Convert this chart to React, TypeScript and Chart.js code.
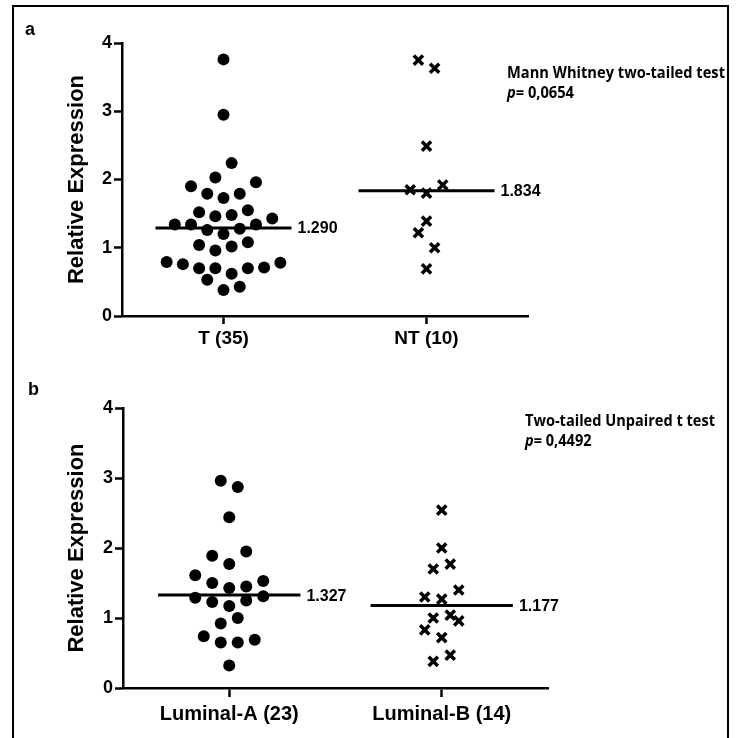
import React, { useEffect, useRef } from 'react';
import { Chart, registerables } from 'chart.js';

Chart.register(...registerables);

// ---------- DATA ----------
const topCategories = ['T (35)', 'NT (10)'];
const tValues = [3.76, 2.95, 2.24, 2.03, 1.9, 1.96, 1.79, 1.73, 1.79, 1.52, 1.46, 1.48, 1.55, 1.43, 1.34, 1.34, 1.26, 1.2, 1.28, 1.34, 1.04, 0.96, 1.02, 1.08, 0.79, 0.76, 0.7, 0.7, 0.62, 0.7, 0.71, 0.78, 0.53, 0.38, 0.43];
const tJitter = [0, 0, 1, -1, -4, 4, -2, 0, 2, -3, -1, 1, 3, 6, -6, -4, -2, 0, 2, 4, -3, -1, 1, 3, -7, -5, -3, -1, 1, 3, 5, 7, -2, 0, 2];
const ntValues = [3.75, 3.63, 2.49, 1.85, 1.8, 1.92, 1.39, 1.22, 1.0, 0.69];
const ntJitter = [-1, 1, 0, -2, 0, 2, 0, -1, 1, 0];
const topMeans = [1.29, 1.834];
const topMeanLabels = ['1.290', '1.834'];
const topTestName = 'Mann Whitney two-tailed test';
const topPValue = '0,0654';

const bottomCategories = ['Luminal-A (23)', 'Luminal-B (14)'];
const lumAValues = [2.96, 2.87, 2.44, 1.89, 1.95, 1.77, 1.61, 1.5, 1.43, 1.45, 1.53, 1.29, 1.23, 1.17, 1.25, 1.31, 0.92, 1.0, 0.74, 0.65, 0.65, 0.69, 0.32];
const lumAJitter = [-1, 1, 0, -2, 2, 0, -4, -2, 0, 2, 4, -4, -2, 0, 2, 4, -1, 1, -3, -1, 1, 3, 0];
const lumBValues = [2.54, 2.0, 1.7, 1.77, 1.4, 1.3, 1.27, 1.0, 1.04, 0.96, 0.83, 0.72, 0.38, 0.47];
const lumBJitter = [0, 0, -1, 1, 2, -2, 0, -1, 1, 2, -2, 0, -1, 1];
const bottomMeans = [1.327, 1.177];
const bottomMeanLabels = ['1.327', '1.177'];
const bottomTestName = 'Two-tailed Unpaired t test';
const bottomPValue = '0,4492';

const yTickValues = [0, 1, 2, 3, 4];
const yTitle = 'Relative Expression';

// ---------- STYLE ----------
const SLOT = 0.04;
const MEAN_HALF = 0.335;
const AXIS_FONT = '"Liberation Sans", Arial, sans-serif';
const NOTE_FONT = '"Open Sans", "Noto Sans", sans-serif';
const NOTE_SIZE = 15.5;
const W = 739;
const H = 369;

type PanelSpec = {
  letter: string;
  letterPos: [number, number];
  categories: string[];
  groups: { values: number[]; jitter: number[]; style: 'circle' | 'crossRot' }[];
  means: number[];
  meanLabels: string[];
  testName: string;
  pValue: string;
  notePos: [number, number, number, number];
  area: { left: number; top: number; right: number; bottom: number };
  xFontSize: number;
  xTickLen: number;
  xPad: number;
};

function buildConfig(p: PanelSpec): any {
  const datasets: any[] = [];
  p.groups.forEach((g, gi) => {
    datasets.push({
      type: 'scatter',
      data: g.values.map((v, i) => ({ x: gi + g.jitter[i] * SLOT, y: v })),
      pointStyle: g.style,
      pointRadius: g.style === 'circle' ? 6 : 6.5,
      pointHoverRadius: g.style === 'circle' ? 6 : 6.5,
      backgroundColor: '#000',
      borderColor: '#000',
      borderWidth: g.style === 'circle' ? 0 : 3.5,
      order: 1,
    });
  });
  p.means.forEach((m, i) => {
    datasets.push({
      type: 'line',
      data: [
        { x: i - MEAN_HALF, y: m },
        { x: i + MEAN_HALF, y: m },
      ],
      borderColor: '#000',
      borderWidth: 3,
      pointRadius: 0,
      fill: false,
      order: 2,
    });
  });

  const textPlugin = {
    id: 'panelText',
    afterDraw(chart: any) {
      const ctx = chart.ctx;
      const xs = chart.scales.x;
      const ys = chart.scales.y;
      ctx.save();
      ctx.fillStyle = '#000';
      ctx.textBaseline = 'middle';
      ctx.textAlign = 'left';
      // mean labels
      ctx.font = `bold 16px ${AXIS_FONT}`;
      p.means.forEach((m, i) => {
        ctx.fillText(p.meanLabels[i], xs.getPixelForValue(i + MEAN_HALF) + 6, ys.getPixelForValue(m) + 1);
      });
      // panel letter
      ctx.font = `bold 18px ${AXIS_FONT}`;
      ctx.fillText(p.letter, p.letterPos[0], p.letterPos[1]);
      // test notes: narrow the text horizontally so the first line spans the target width
      const [nx, ny1, ny2, targetW] = p.notePos;
      ctx.font = `bold ${NOTE_SIZE}px ${NOTE_FONT}`;
      const sx = targetW / ctx.measureText(p.testName).width;
      ctx.save();
      ctx.translate(nx, 0);
      ctx.scale(sx, 1);
      ctx.fillText(p.testName, 0, ny1);
      ctx.font = `italic bold ${NOTE_SIZE}px ${NOTE_FONT}`;
      ctx.fillText('p', 0, ny2);
      const pw = ctx.measureText('p').width;
      ctx.font = `bold ${NOTE_SIZE}px ${NOTE_FONT}`;
      ctx.fillText('= ' + p.pValue, pw, ny2);
      ctx.restore();
      ctx.restore();
    },
  };

  return {
    type: 'scatter',
    data: { datasets },
    plugins: [textPlugin],
    options: {
      animation: false,
      responsive: false,
      maintainAspectRatio: false,
      events: [],
      layout: {
        padding: { left: 0, top: p.area.top, right: W - p.area.right, bottom: 0 },
      },
      plugins: { legend: { display: false }, tooltip: { enabled: false } },
      scales: {
        x: {
          type: 'linear',
          min: -0.5,
          max: 1.5,
          afterBuildTicks: (s: any) => {
            s.ticks = p.categories.map((_, i) => ({ value: i }));
          },
          afterFit: (s: any) => {
            s.height = H - p.area.bottom;
          },
          ticks: {
            color: '#000',
            font: { family: AXIS_FONT, size: p.xFontSize, weight: 'bold' },
            padding: p.xPad,
            maxRotation: 0,
            autoSkip: false,
            callback: (v: any) => p.categories[Math.round(v)] ?? '',
          },
          grid: {
            drawOnChartArea: false,
            drawTicks: true,
            tickLength: p.xTickLen,
            tickWidth: 2.5,
            tickColor: '#000',
          },
          border: { display: true, color: '#000', width: 2.5 },
        },
        y: {
          type: 'linear',
          min: 0,
          max: 4,
          afterBuildTicks: (s: any) => {
            s.ticks = yTickValues.map((v) => ({ value: v }));
          },
          afterFit: (s: any) => {
            s.width = p.area.left;
          },
          ticks: {
            color: '#000',
            font: { family: AXIS_FONT, size: 18, weight: 'bold' },
            padding: 2,
            callback: (v: any) => String(v),
          },
          grid: {
            drawOnChartArea: false,
            drawTicks: true,
            tickLength: 8,
            tickWidth: 2.5,
            tickColor: '#000',
          },
          border: { display: true, color: '#000', width: 2.5 },
          title: {
            display: true,
            text: yTitle,
            color: '#000',
            font: { family: AXIS_FONT, size: 22, weight: 'bold' },
            padding: { top: 64, bottom: 0 },
          },
        },
      },
    },
  };
}

const topSpec: PanelSpec = {
  letter: 'a',
  letterPos: [25, 30],
  categories: topCategories,
  groups: [
    { values: tValues, jitter: tJitter, style: 'circle' },
    { values: ntValues, jitter: ntJitter, style: 'crossRot' },
  ],
  means: topMeans,
  meanLabels: topMeanLabels,
  testName: topTestName,
  pValue: topPValue,
  notePos: [507, 74, 94, 218],
  area: { left: 122, top: 43, right: 528, bottom: 316 },
  xFontSize: 19,
  xTickLen: 8,
  xPad: 3,
};

const bottomSpec: PanelSpec = {
  letter: 'b',
  letterPos: [28, 21],
  categories: bottomCategories,
  groups: [
    { values: lumAValues, jitter: lumAJitter, style: 'circle' },
    { values: lumBValues, jitter: lumBJitter, style: 'crossRot' },
  ],
  means: bottomMeans,
  meanLabels: bottomMeanLabels,
  testName: bottomTestName,
  pValue: bottomPValue,
  notePos: [525, 53, 73, 190],
  area: { left: 123, top: 39, right: 548, bottom: 319 },
  xFontSize: 20,
  xTickLen: 9,
  xPad: 5,
};

function Panel({ spec, top }: { spec: PanelSpec; top: number }) {
  const ref = useRef<HTMLCanvasElement | null>(null);
  useEffect(() => {
    if (!ref.current) return;
    const chart = new Chart(ref.current, buildConfig(spec));
    return () => chart.destroy();
  }, [spec]);
  return (
    <canvas
      ref={ref}
      width={W}
      height={H}
      style={{ position: 'absolute', left: 0, top, width: W, height: H }}
    />
  );
}

export default function App() {
  return (
    <div style={{ position: 'absolute', left: 0, top: 0, width: W, height: 738, background: '#fff', overflow: 'hidden' }}>
      <div
        style={{
          position: 'absolute',
          left: 12,
          top: 5,
          width: 713,
          height: 760,
          borderLeft: '2px solid #000',
          borderTop: '2px solid #000',
          borderRight: '2px solid #000',
        }}
      />
      <Panel spec={topSpec} top={0} />
      <Panel spec={bottomSpec} top={369} />
    </div>
  );
}
